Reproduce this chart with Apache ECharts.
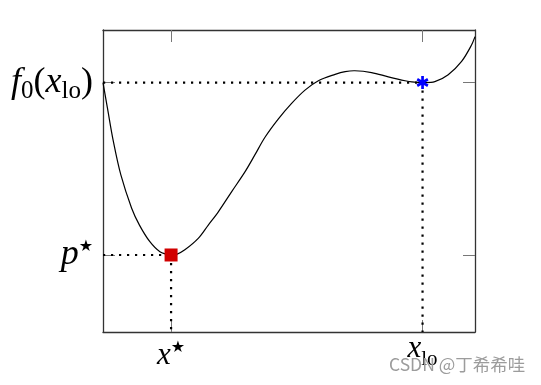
<!DOCTYPE html>
<html><head><meta charset="utf-8">
<script src="https://cdn.jsdelivr.net/npm/echarts@6/dist/echarts.min.js"></script>
<style>html,body{margin:0;padding:0;background:#fff}#c{width:541px;height:385px}</style>
</head><body><div id="c"></div>
<script>
// ---- data ----
var curveX = [0.000,0.012,0.028,0.048,0.077,0.098,0.126,0.153,0.183,0.198,0.220,0.256,0.283,0.310,0.346,0.382,0.409,0.435,0.471,0.507,0.543,0.579,0.624,0.651,0.677,0.722,0.767,0.812,0.830,0.859,0.892,0.928,0.964,0.991,1.000];
var curveY = [0.826,0.741,0.630,0.520,0.410,0.354,0.299,0.266,0.255,0.257,0.272,0.310,0.354,0.398,0.465,0.531,0.588,0.644,0.705,0.757,0.801,0.832,0.853,0.862,0.865,0.859,0.845,0.832,0.828,0.826,0.829,0.852,0.896,0.951,0.978];
var xStar = 0.183, pStar = 0.255;   // global minimum
var xLo = 0.859, f0Lo = 0.826;      // local minimum
var xTickValues = [xStar, xLo];
var xTickLabels = ['{i|x}{sup|★}', '{j|x}{sub|lo}'];
var yTickValues = [pStar, f0Lo];
var yTickLabels = ['{I|p}{SUP|★}', '{I|f}{SUB|0}{N|(}{I|x}{SUB|lo}{N|)}'];
var watermark = 'CSDN @丁希希哇';

// ---- chart ----
var chart = echarts.init(document.getElementById('c'), null, {renderer: 'canvas'});
var SERIF = '"Liberation Serif", "Times New Roman", serif';
var richX = {
  i: {fontFamily: SERIF, fontStyle: 'italic', fontSize: 31, lineHeight: 36, color: '#000'},
  j: {fontFamily: SERIF, fontStyle: 'italic', fontSize: 31, lineHeight: 36, color: '#000', padding: [0, 0, 14, 0]},
  sub: {fontFamily: SERIF, fontSize: 21, lineHeight: 36, color: '#000', padding: [6, 0, 0, 0]},
  sup: {fontFamily: '"DejaVu Sans"', fontSize: 16, lineHeight: 36, color: '#000', padding: [0, 0, 16, 0]}
};
var richY = {
  I: {fontFamily: SERIF, fontStyle: 'italic', fontSize: 36, lineHeight: 40, color: '#000'},
  N: {fontFamily: SERIF, fontSize: 36, lineHeight: 40, color: '#000'},
  SUB: {fontFamily: SERIF, fontSize: 25, lineHeight: 40, color: '#000', padding: [17, 0, 0, 0]},
  SUP: {fontFamily: '"DejaVu Sans"', fontSize: 16, lineHeight: 40, color: '#000', padding: [0, 0, 16, 0]}
};
function labelFor(vals, labels) {
  return function (v) {
    for (var k = 0; k < vals.length; k++) if (Math.abs(vals[k] - v) < 1e-9) return labels[k];
    return '';
  };
}
var lineCol = '#333';
function xAx(pos, showLabel) {
  return {
    type: 'value', position: pos, min: 0, max: 1,
    splitLine: {show: false},
    axisLine: {show: true, onZero: false, lineStyle: {color: lineCol, width: 1.3}},
    axisTick: {show: true, inside: true, length: 12, customValues: xTickValues, lineStyle: {color: '#777', width: 1}},
    axisLabel: {show: showLabel, customValues: xTickValues, margin: 6, fontFamily: SERIF, fontSize: 31,
      formatter: labelFor(xTickValues, xTickLabels), rich: richX}
  };
}
function yAx(pos, showLabel) {
  return {
    type: 'value', position: pos, min: 0, max: 1,
    splitLine: {show: false},
    axisLine: {show: true, onZero: false, lineStyle: {color: lineCol, width: 1.3}},
    axisTick: {show: true, inside: true, length: 12, customValues: yTickValues, lineStyle: {color: '#777', width: 1}},
    axisLabel: {show: showLabel, customValues: yTickValues, margin: 10, fontFamily: SERIF, fontSize: 36,
      formatter: labelFor(yTickValues, yTickLabels), rich: richY}
  };
}
var dotted = {color: '#000', width: 2.2, type: [2.2, 5.8], cap: 'butt'};
function seg(a, b) {
  return {type: 'line', xAxisIndex: 0, yAxisIndex: 0, data: [a, b], symbol: 'none', silent: true,
    lineStyle: dotted, z: 2, animation: false};
}
// smooth curve through the data points (projected by the axes), C1 cubic Hermite in pixel space
function renderCurve(params, api) {
  if (params.dataIndex !== 0) return;
  var p = curveX.map(function (x, k) { return api.coord([x, curveY[k]]); });
  var n = p.length, d = [], m = [];
  for (var k = 0; k < n - 1; k++) d.push(Math.hypot(p[k + 1][0] - p[k][0], p[k + 1][1] - p[k][1]));
  for (k = 0; k < n; k++) {
    var a = p[Math.max(k - 1, 0)], b = p[Math.min(k + 1, n - 1)];
    var L = (k > 0 ? d[k - 1] : 0) + (k < n - 1 ? d[k] : 0);
    m.push([(b[0] - a[0]) / L, (b[1] - a[1]) / L]);
  }
  var s = 'M' + p[0][0] + ' ' + p[0][1];
  for (k = 0; k < n - 1; k++) {
    var t = d[k] / 3;
    s += 'C' + (p[k][0] + m[k][0] * t) + ' ' + (p[k][1] + m[k][1] * t) + ' ' +
         (p[k + 1][0] - m[k + 1][0] * t) + ' ' + (p[k + 1][1] - m[k + 1][1] * t) + ' ' +
         p[k + 1][0] + ' ' + p[k + 1][1];
  }
  return {type: 'path', shape: {pathData: s}, style: {stroke: '#000', lineWidth: 1.2, fill: null}};
}
var asterisk = 'path://M39 0L61 0L61 100L39 100Z M1.2 34.53L12.2 15.47L98.8 65.47L87.8 84.53Z M87.8 15.47L98.8 34.53L12.2 84.53L1.2 65.47Z';

chart.setOption({
  animation: false,
  backgroundColor: '#fff',
  grid: {left: 103, top: 30, right: 66, bottom: 53, containLabel: false},
  xAxis: [xAx('bottom', true), xAx('top', false)],
  yAxis: [yAx('left', true), yAx('right', false)],
  series: [
    seg([0, f0Lo], [xLo, f0Lo]),
    seg([xLo, f0Lo], [xLo, 0]),
    seg([0, pStar], [xStar, pStar]),
    seg([xStar, pStar], [xStar, 0]),
    {type: 'custom', coordinateSystem: 'cartesian2d', data: [[curveX[0], curveY[0]]],
      renderItem: renderCurve, clip: false, z: 3, silent: true},
    {type: 'scatter', data: [[xStar, pStar]], symbol: 'rect', symbolSize: 13, z: 5,
      itemStyle: {color: '#d10000', opacity: 1}},
    {type: 'scatter', data: [[xLo, f0Lo]], symbol: asterisk, symbolSize: [12, 13], z: 5,
      itemStyle: {color: '#0000ff', opacity: 1}}
  ],
  graphic: [
    {type: 'text', left: 389, top: 356, z: 10,
      style: {text: watermark, fill: '#9c9c9c', font: '17.5px "Noto Sans CJK SC", sans-serif'}}
  ]
});
</script></body></html>
